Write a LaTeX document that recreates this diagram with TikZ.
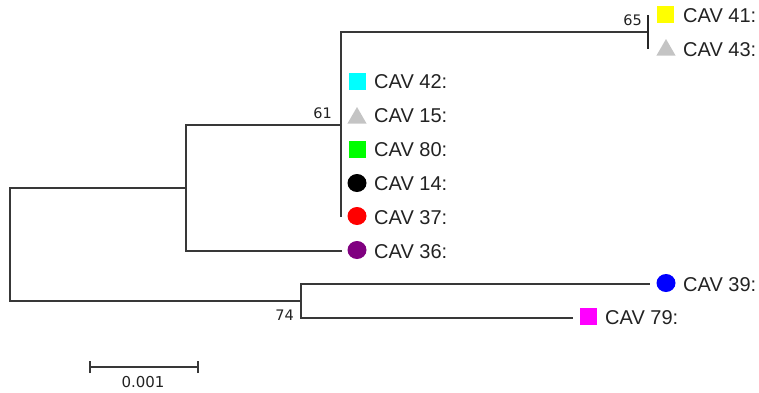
\documentclass[tikz,border=0pt]{standalone}
\usepackage{fontspec}
\setmainfont{Liberation Sans}
\newfontfamily\numfont{DejaVu Sans}
\usetikzlibrary{shapes.geometric}
\definecolor{branchgray}{HTML}{383838}
\definecolor{textgray}{HTML}{222222}
\definecolor{cvcyan}{HTML}{00FFFF}
\definecolor{cvgray}{HTML}{C4C4C4}
\definecolor{cvgreen}{HTML}{00FF00}
\definecolor{cvred}{HTML}{FF0000}
\definecolor{cvpurple}{HTML}{800080}
\definecolor{cvblue}{HTML}{0000FF}
\definecolor{cvmagenta}{HTML}{FF00FF}
\definecolor{cvyellow}{HTML}{FFFF00}
\begin{document}
\begin{tikzpicture}[x=1pt,y=-1pt,
  branch/.style={draw=branchgray, line width=1.5pt},
  taxon/.style={anchor=base west, inner sep=0pt, text=textgray,
    font=\fontsize{20}{20}\selectfont},
  boot/.style={inner sep=0pt, text=textgray,
    font=\numfont\fontsize{14.5}{14.5}\selectfont},
  sqmark/.style={rectangle, minimum size=17pt, inner sep=0pt},
  dotmark/.style={ellipse, minimum width=19pt, minimum height=18pt, inner sep=0pt},
  trimark/.style={regular polygon, regular polygon sides=3, minimum size=22pt,
    inner sep=0pt, fill=cvgray}
]
\useasboundingbox (0,0) rectangle (759,392);

% internal nodes of the tree
\coordinate (root) at (10,244.5);
\coordinate (n1)   at (186,188);
\coordinate (n61)  at (341,125);
\coordinate (n65)  at (648,32);
\coordinate (n74)  at (301,301);

% branch tips
\coordinate (t41) at (648,15);
\coordinate (t43) at (648,49);
\coordinate (t37) at (341,217);
\coordinate (t36) at (342,251);
\coordinate (t39) at (650,284);
\coordinate (t79) at (573,318);

% branches
\draw[branch] (root) |- (n1);
\draw[branch] (root) |- (n74);
\draw[branch] (n1) |- (n61);
\draw[branch] (n1) |- (t36);
\draw[branch] (n61) |- (n65);
\draw[branch] (n61) -- (t37);
\draw[branch, draw=black!85] (t41) -- (t43);
\draw[branch] (n74) |- (t39);
\draw[branch] (n74) |- (t79);

% bootstrap values
\node[boot, anchor=east] (b65) at (642,20) {65};
\node[boot, anchor=east] (b61) at (332,113) {61};
\node[boot, anchor=east] (b74) at (294,315) {74};

% taxa: markers and names
\node[sqmark, fill=cvyellow] (m41) at (665,14) {};
\node[taxon] (l41) at (683,22) {CAV 41:};
\node[trimark] (m43) at (666,50) {};
\node[taxon] (l43) at (683,56) {CAV 43:};

\node[sqmark, fill=cvcyan] (m42) at (357,81) {};
\node[taxon] (l42) at (374,88.5) {CAV 42:};
\node[trimark] (m15) at (357,118) {};
\node[taxon] (l15) at (374,122) {CAV 15:};
\node[sqmark, fill=cvgreen] (m80) at (357,149) {};
\node[taxon] (l80) at (374,156.5) {CAV 80:};
\node[dotmark, fill=black] (m14) at (357,183) {};
\node[taxon] (l14) at (374,190.5) {CAV 14:};
\node[dotmark, fill=cvred] (m37) at (357,216) {};
\node[taxon] (l37) at (374,224) {CAV 37:};
\node[dotmark, fill=cvpurple] (m36) at (357,250) {};
\node[taxon] (l36) at (374,258) {CAV 36:};

\node[dotmark, fill=cvblue] (m39) at (666,283) {};
\node[taxon] (l39) at (683,291) {CAV 39:};
\node[sqmark, fill=cvmagenta] (m79) at (588,316) {};
\node[taxon] (l79) at (605,324.5) {CAV 79:};

% scale bar
\coordinate (s0) at (90,367);
\coordinate (s1) at (198,367);
\draw[branch] (s0) -- (s1);
\draw[branch] ([yshift=-6pt]s0) -- ([yshift=6pt]s0);
\draw[branch] ([yshift=-6pt]s1) -- ([yshift=6pt]s1);
\node[inner sep=0pt, text=textgray, font=\numfont\fontsize{15}{15}\selectfont]
  (scale) at (143,382) {0.001};
\end{tikzpicture}
\end{document}
